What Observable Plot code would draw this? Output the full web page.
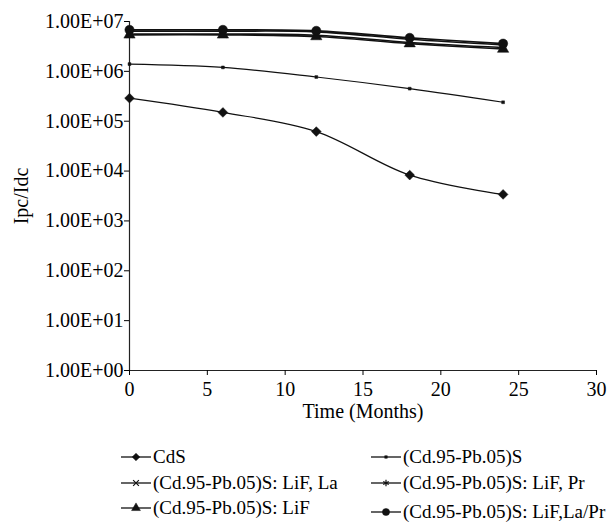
<!DOCTYPE html>
<html><head><meta charset="utf-8">
<script src="https://cdn.jsdelivr.net/npm/d3@7"></script>
<script src="https://cdn.jsdelivr.net/npm/@observablehq/plot@0.6"></script>
<style>
body{margin:0;background:#fff;font-family:"Liberation Serif","Times New Roman",serif;}
#wrap{position:relative;width:608px;height:522px;background:#fff;}
.leg{position:absolute;display:flex;align-items:center;font-size:19px;color:#000;white-space:nowrap;height:22px;}
.leg svg{margin-right:2px;}
</style></head><body><div id="wrap"></div>
<script>
const months = [0, 6, 12, 18, 24];
const seriesNames = ["CdS", "(Cd.95-Pb.05)S", "(Cd.95-Pb.05)S: LiF, La", "(Cd.95-Pb.05)S: LiF, Pr", "(Cd.95-Pb.05)S: LiF", "(Cd.95-Pb.05)S: LiF,La/Pr"];
const cds    = [2.9e5, 1.5e5, 6.2e4, 8.3e3, 3.4e3];
const cdpb   = [1.4e6, 1.2e6, 7.7e5, 4.5e5, 2.4e5];
const lifLa  = [5.6e6, 5.6e6, 5.3e6, 3.8e6, 3.0e6];
const lifPr  = [6.4e6, 6.4e6, 6.2e6, 4.4e6, 3.4e6];
const lif    = [5.4e6, 5.4e6, 5.0e6, 3.6e6, 2.8e6];
const lifLaPr= [6.8e6, 6.8e6, 6.5e6, 4.7e6, 3.6e6];
const symbols = ["diamond2", "square", "times", "asterisk", "triangle", "circle"];
const filled  = [true, true, false, false, true, true];
const sizes   = [4.4, 1.6, 3.5, 3.8, 4.2, 4.6];
const yTicks = [1, 10, 100, 1000, 1e4, 1e5, 1e6, 1e7];
const xTicks = [0, 5, 10, 15, 20, 25, 30];

const allValues = [cds, cdpb, lifLa, lifPr, lif, lifLaPr];
const rows = [];
allValues.forEach((vals, i) => vals.forEach((v, j) => rows.push({series: seriesNames[i], idx: i, month: months[j], value: v})));

const fmt = d => "1.00E+" + String(Math.round(Math.log10(d))).padStart(2, "0");

const marks = [
  Plot.ruleX([0], {y1: 1, y2: 1e7, stroke: "#222", strokeWidth: 1.2}),
  Plot.ruleY([1], {x1: 0, x2: 30, stroke: "#222", strokeWidth: 1.2}),
  Plot.axisY({ticks: yTicks, tickFormat: fmt, tickSize: 5, tickPadding: 1, label: "Ipc/Idc", labelAnchor: "center", labelArrow: "none", labelOffset: 116, fontSize: 20}),
  Plot.axisX({ticks: xTicks, tickSize: 5, tickPadding: 6, label: "Time (Months)", labelAnchor: "center", labelOffset: 47, labelArrow: "none", fontSize: 20})
];
allValues.forEach((vals, i) => {
  const data = rows.filter(r => r.idx === i);
  marks.push(Plot.line(data, {x: "month", y: "value", curve: "catmull-rom", stroke: "#111", strokeWidth: i >= 2 ? 1.6 : 1.2}));
  marks.push(Plot.dot(data, {x: "month", y: "value", symbol: () => symbols[i], r: sizes[i],
    fill: filled[i] ? "#111" : "none", stroke: "#111", strokeWidth: filled[i] ? 0.5 : 1.3}));
});

const chart = Plot.plot({
  width: 608, height: 425,
  marginTop: 21, marginBottom: 55, marginLeft: 129, marginRight: 12,
  style: {fontFamily: "Liberation Serif, Times New Roman, serif", fontSize: "20px", color: "#000", background: "#fff", overflow: "visible"},
  x: {domain: [0, 30], axis: null},
  y: {type: "log", domain: [1, 1e7], axis: null},
  marks
});
const wrap = document.getElementById("wrap");
chart.style.position = "absolute"; chart.style.left = "0px"; chart.style.top = "0px";
wrap.appendChild(chart);

// legend below the chart
const symMap = {diamond2: d3.symbolDiamond2, square: d3.symbolSquare, times: d3.symbolTimes, asterisk: d3.symbolAsterisk, triangle: d3.symbolTriangle, circle: d3.symbolCircle};
const legPos = [[121, 446], [371, 446], [121, 472], [371, 472], [121, 497], [371, 501]];
seriesNames.forEach((name, i) => {
  const div = document.createElement("div");
  div.className = "leg";
  div.style.left = legPos[i][0] + "px";
  div.style.top = legPos[i][1] + "px";
  const s = d3.create("svg").attr("width", 30).attr("height", 22);
  s.append("line").attr("x1", 0).attr("x2", 30).attr("y1", 11).attr("y2", 11).attr("stroke", "#111").attr("stroke-width", 1.3);
  const rr = sizes[i] * (i === 1 ? 0.9 : 0.78);
  s.append("path").attr("transform", "translate(15,11)")
    .attr("d", d3.symbol(symMap[symbols[i]], Math.PI * rr * rr)())
    .attr("fill", filled[i] ? "#111" : "none").attr("stroke", "#111").attr("stroke-width", filled[i] ? 0.5 : 1.2);
  div.appendChild(s.node());
  const t = document.createElement("span");
  t.textContent = name;
  div.appendChild(t);
  wrap.appendChild(div);
});
</script></body></html>
